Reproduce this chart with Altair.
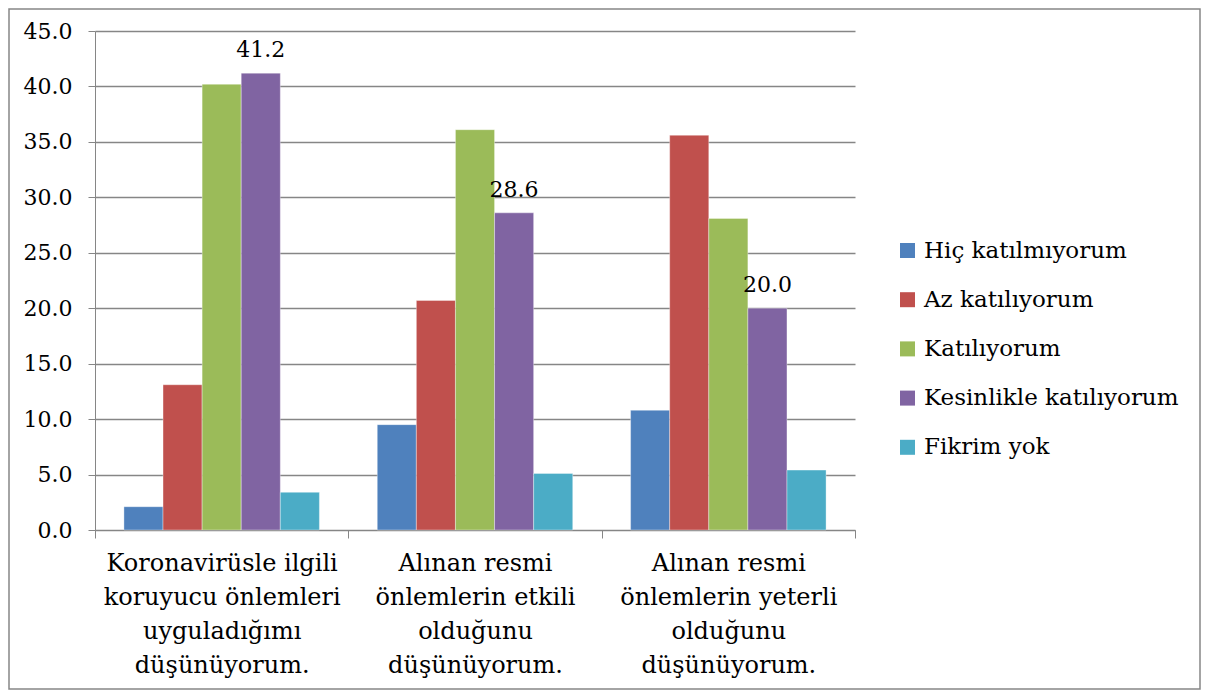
import altair as alt
import pandas as pd

categories = [
    "Koronavirüsle ilgili\nkoruyucu önlemleri\nuyguladığımı\ndüşünüyorum.",
    "Alınan resmi\nönlemlerin etkili\nolduğunu\ndüşünüyorum.",
    "Alınan resmi\nönlemlerin yeterli\nolduğunu\ndüşünüyorum.",
]
series = ["Hiç katılmıyorum", "Az katılıyorum", "Katılıyorum",
          "Kesinlikle katılıyorum", "Fikrim yok"]
colors = ["#4F81BD", "#C0504D", "#9BBB59", "#8064A2", "#4BACC6"]
values = {
    "Hiç katılmıyorum": [2.1, 9.5, 10.8],
    "Az katılıyorum": [13.1, 20.7, 35.6],
    "Katılıyorum": [40.2, 36.1, 28.1],
    "Kesinlikle katılıyorum": [41.2, 28.6, 20.0],
    "Fikrim yok": [3.4, 5.1, 5.4],
}
labelled_series = "Kesinlikle katılıyorum"

rows = []
for s in series:
    for c, v in zip(categories, values[s]):
        rows.append({"cat": c, "series": s, "value": v})
df = pd.DataFrame(rows)

FONT = "DejaVu Serif"
GRID = "#868686"
W, H = 760, 499

x = alt.X("cat:N", sort=categories, title=None,
          scale=alt.Scale(paddingInner=0, paddingOuter=0),
          axis=alt.Axis(labelAngle=0, labelAlign="center", labelBaseline="top",
                        labelExpr="split(datum.label, '\\n')",
                        labelLineHeight=34, labelFontSize=24, labelFont=FONT,
                        labelColor="#000000", labelPadding=13, labelLimit=400,
                        tickBand="extent", tickSize=8, tickColor=GRID,
                        domainColor=GRID, grid=False))
xo = alt.XOffset("series:N", sort=series,
                 scale=alt.Scale(paddingInner=0, paddingOuter=0.74))
y = alt.Y("value:Q", title=None,
          scale=alt.Scale(domain=[0, 45], nice=False),
          axis=alt.Axis(values=[0, 5, 10, 15, 20, 25, 30, 35, 40, 45], format=".1f",
                        labelFontSize=22, labelFont=FONT, labelColor="#000000",
                        tickSize=7, tickColor=GRID, labelPadding=16,
                        domainColor=GRID, gridColor=GRID, gridWidth=1.3))

base = alt.Chart(df)
bars = base.mark_bar(stroke="#ffffff", strokeWidth=0.6, strokeOpacity=0.6).encode(
    x=x, xOffset=xo, y=y,
    color=alt.Color("series:N", sort=series,
                    scale=alt.Scale(domain=series, range=colors),
                    legend=alt.Legend(title=None, orient="none", legendX=801, legendY=208,
                                      symbolType="square", symbolSize=225,
                                      symbolStrokeWidth=0, labelFontSize=23,
                                      labelFont=FONT, labelColor="#000000",
                                      rowPadding=25.2, labelOffset=5, labelLimit=400)),
)
text = base.transform_filter(alt.datum.series == labelled_series).mark_text(
    baseline="alphabetic", dy=-16, fontSize=22, font=FONT, color="#000000"
).encode(x=x, xOffset=xo, y=y, text=alt.Text("value:Q", format=".1f"))

border = alt.Chart(pd.DataFrame({"a": [0]})).mark_rect(
    fill=None, stroke=GRID, strokeWidth=1.5
).encode(x=alt.value(-86), x2=alt.value(1105), y=alt.value(-22), y2=alt.value(658))

chart = alt.layer(bars, text, border).properties(
    width=W, height=H,
    autosize=alt.AutoSizeParams(type="none"),
    padding={"left": 87, "top": 23, "right": 347, "bottom": 160},
).configure_view(stroke=None)

chart.save("out.html", embed_options={"renderer": "svg", "actions": False})
